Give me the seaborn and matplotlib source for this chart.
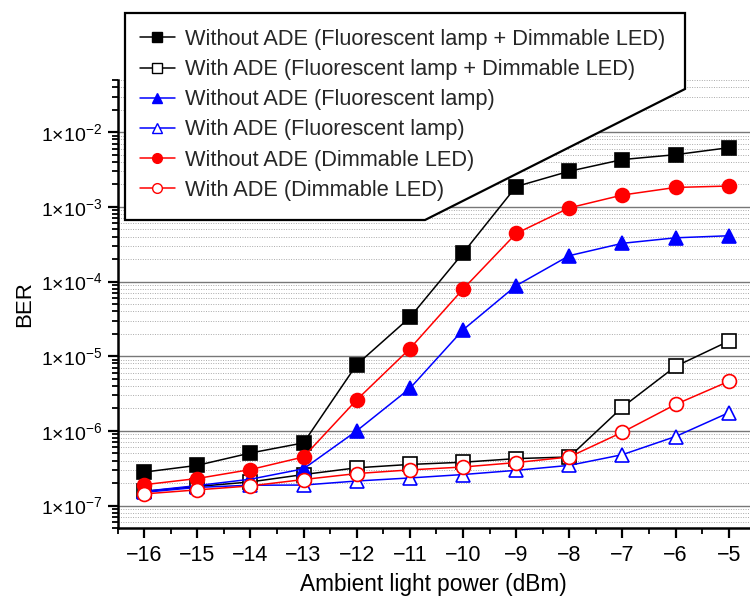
import numpy as np
import pandas as pd
import matplotlib
matplotlib.use("Agg")
import matplotlib.pyplot as plt
from matplotlib import font_manager
from matplotlib.lines import Line2D
from matplotlib.patches import Polygon
from matplotlib.ticker import FixedLocator, LogLocator, NullFormatter, FixedFormatter, MultipleLocator
import seaborn as sns

# ---------------- data ----------------
power_dbm = [-16, -15, -14, -13, -12, -11, -10, -9, -8, -7, -6, -5]
without_ade_fl_led = [2.8e-7, 3.45e-7, 5.05e-7, 6.9e-7, 7.7e-6, 3.3e-5, 2.4e-4, 1.87e-3, 3.0e-3, 4.3e-3, 5.0e-3, 6.2e-3]
with_ade_fl_led = [1.55e-7, 1.8e-7, 2.07e-7, 2.6e-7, 3.2e-7, 3.55e-7, 3.8e-7, 4.25e-7, 4.47e-7, 2.08e-6, 7.3e-6, 1.59e-5]
without_ade_fl = [1.55e-7, 1.85e-7, 2.25e-7, 3.1e-7, 1.0e-6, 3.7e-6, 2.25e-5, 8.8e-5, 2.22e-4, 3.25e-4, 3.85e-4, 4.1e-4]
with_ade_fl = [1.5e-7, 1.75e-7, 1.87e-7, 1.88e-7, 2.13e-7, 2.34e-7, 2.6e-7, 2.96e-7, 3.45e-7, 4.8e-7, 8.4e-7, 1.75e-6]
without_ade_led = [1.9e-7, 2.3e-7, 3.03e-7, 4.47e-7, 2.6e-6, 1.26e-5, 7.9e-5, 4.4e-4, 9.7e-4, 1.44e-3, 1.82e-3, 1.9e-3]
with_ade_led = [1.43e-7, 1.62e-7, 1.83e-7, 2.23e-7, 2.68e-7, 3.0e-7, 3.28e-7, 3.76e-7, 4.47e-7, 9.6e-7, 2.26e-6, 4.6e-6]

labels = [
    "Without ADE (Fluorescent lamp + Dimmable LED)",
    "With ADE (Fluorescent lamp + Dimmable LED)",
    "Without ADE (Fluorescent lamp)",
    "With ADE (Fluorescent lamp)",
    "Without ADE (Dimmable LED)",
    "With ADE (Dimmable LED)",
]
ytick_values = [1e-7, 1e-6, 1e-5, 1e-4, 1e-3, 1e-2]
ytick_exps = ["-7", "-6", "-5", "-4", "-3", "-2"]
xtick_values = [-16, -15, -14, -13, -12, -11, -10, -9, -8, -7, -6, -5]

# ---------------- style ----------------
sns.set_theme(style="white")
available = {f.name for f in font_manager.fontManager.ttflist}
main_font = "Liberation Sans Narrow" if "Liberation Sans Narrow" in available else "Liberation Sans"
plt.rcParams["font.family"] = [main_font, "DejaVu Sans"]
plt.rcParams["mathtext.default"] = "regular"
plt.rcParams["axes.unicode_minus"] = True

fig = plt.figure(figsize=(7.5, 6.04), dpi=100)
ax = fig.add_axes([117.5 / 750, 1 - 528 / 604, 1 - 117.5 / 750, (528 - 80) / 604])

series = [without_ade_fl_led, with_ade_fl_led, without_ade_fl, with_ade_fl, without_ade_led, with_ade_led]
colors = ["black", "black", "#0000ff", "#0000ff", "#ff0000", "#ff0000"]
markers = ["s", "s", "^", "^", "o", "o"]
filled = [True, False, True, False, True, False]
msizes = [9.5, 9.5, 10, 10, 10, 10]

for vals, c, m, f, ms in zip(series, colors, markers, filled, msizes):
    df = pd.DataFrame({"x": power_dbm, "y": vals})
    sns.lineplot(data=df, x="x", y="y", ax=ax, color=c, lw=1.1, marker=m, markersize=ms,
                 markerfacecolor=(c if f else "white"), markeredgecolor=c, markeredgewidth=1.2,
                 zorder=3)

ax.set_yscale("log")
ax.set_ylim(5e-8, 5e-2)
ax.set_xlim(-16.5, -4.6)

# ticks
ax.yaxis.set_major_locator(FixedLocator(ytick_values))
ax.yaxis.set_major_formatter(FixedFormatter([r"$1{\times}10^{-%s}$" % e.lstrip("-") for e in ytick_exps]))
ax.yaxis.set_minor_locator(LogLocator(base=10, subs=np.arange(2, 10), numticks=20))
ax.yaxis.set_minor_formatter(NullFormatter())
ax.xaxis.set_major_locator(FixedLocator(xtick_values))
ax.xaxis.set_minor_locator(MultipleLocator(0.5))
ax.set_xticklabels(["\u2212%d" % abs(v) for v in xtick_values])

ax.tick_params(axis="both", which="major", direction="out", length=7, width=1.6, colors="black", pad=4)
ax.tick_params(axis="y", which="major", labelsize=14)
ax.tick_params(axis="x", which="major", labelsize=15.5, pad=5)
ax.tick_params(axis="both", which="minor", direction="out", length=4, width=1.3, colors="black")
ax.tick_params(axis="y", which="both", left=True)
ax.tick_params(axis="x", which="both", bottom=True)

# grid
ax.grid(False)
ax.yaxis.grid(True, which="major", color="#777777", lw=1.0, ls="-")
ax.yaxis.grid(True, which="minor", color="#aaaaaa", lw=0.7, ls=(0, (1, 1.5)))
ax.set_axisbelow(True)

for s in ["top", "right"]:
    ax.spines[s].set_visible(False)
for s in ["left", "bottom"]:
    ax.spines[s].set_color("black")
    ax.spines[s].set_linewidth(1.8)

ax.set_xlabel("Ambient light power (dBm)", fontsize=16.3, color="black", labelpad=5)
ax.set_ylabel("BER", fontsize=16, color="black", labelpad=4)

# legend box (custom polygon)
pts = [(125, 13), (685, 13), (685, 89), (425, 220), (125, 220)]
poly = Polygon([(x / 750, 1 - y / 604) for x, y in pts], closed=True, transform=fig.transFigure,
               facecolor="white", edgecolor="black", lw=1.6, zorder=4)
fig.add_artist(poly)

handles = []
for c, m, f in zip(colors, markers, filled):
    handles.append(Line2D([0], [0], color=c, lw=1.1, marker=m, markersize=7,
                          markerfacecolor=(c if f else "white"), markeredgecolor=c, markeredgewidth=1.0))
leg = fig.legend(handles, labels, loc="upper left", bbox_to_anchor=(140 / 750, 1 - 29 / 604),
                 frameon=False, fontsize=15.7, handlelength=1.6, handletextpad=0.45,
                 labelspacing=0.42, borderpad=0, borderaxespad=0)
leg.set_zorder(6)

fig.savefig("out.png", dpi=100)
